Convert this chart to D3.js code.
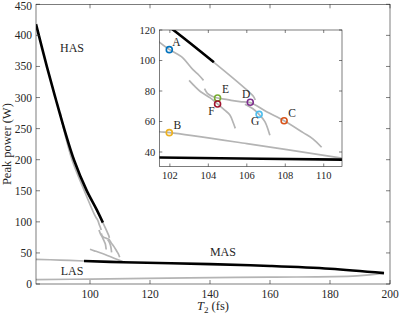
<!DOCTYPE html>
<html>
<head>
<meta charset="utf-8">
<script src="https://cdn.jsdelivr.net/npm/d3@7"></script>
<style>
  body { margin: 0; background: #fff; }
  svg { display: block; }
  text { font-family: "Liberation Serif", "DejaVu Serif", serif; fill: #262626; }
</style>
</head>
<body>
<div id="chart"></div>
<script>
// stable branches (black)
const hasStable = [[82, 418], [85.67, 349], [88.67, 296], [91.5, 248], [94.67, 199.5], [98.83, 151], [102.18, 120], [104.29, 98.8]];
const masStable = [[98, 37], [111, 35], [140, 32], [160, 29], [180, 24.5], [198, 17.5]];

// unstable branches (gray)
const lasUpper = [[82, 39.7], [90, 38.5], [98, 37]];
const lasLower = [[82, 7], [100, 8], [133, 10], [160, 11], [189, 13], [198, 17.5]];
const branchA = [[90.1, 275], [91.2, 250], [94, 200], [98.1, 150], [101.45, 112], [102, 107], [102.6, 102.5], [103.2, 94], [103.5, 90.5], [103.75, 87]];
const branchUpper = [[104.29, 98.8], [105.3, 88.3], [106, 80.7], [106.33, 76.7], [106.44, 74.1]];
const branchEDC = [[103.8, 81.5], [103.95, 78.5], [104.2, 76.6], [104.48, 75.4], [105, 74.3], [105.64, 73], [106.18, 72.4], [107.03, 66.4], [107.94, 60.5], [108.93, 52.7], [109.45, 48.5], [109.89, 43.1]];
const branchF = [[103, 87], [103.3, 83], [103.6, 79.5], [104.1, 75.5], [104.48, 71.5], [104.85, 67.5], [105.12, 64.3], [105.3, 59], [105.4, 55.5]];
const branchG = [[105.9, 71.3], [106.3, 68.5], [106.64, 64.7], [106.94, 59.9], [107.15, 53], [107.2, 51]];
const branchB = [[100, 56], [101.45, 53.3], [102, 52.7], [106, 45.5], [110.94, 36]];

const grayLines = [lasUpper, lasLower, branchA, branchUpper, branchEDC, branchF, branchG, branchB];

// labelled points in the inset
const pointNames = ["A", "B", "C", "D", "E", "F", "G"];
const pointT2 = [101.97, 101.97, 107.94, 106.18, 104.48, 104.48, 106.64];
const pointPower = [107.1, 52.7, 60.5, 72.6, 75.4, 71.5, 64.7];
const pointColors = ["#0072BD", "#EDB120", "#D95319", "#7E2F8E", "#77AC30", "#A2142F", "#4DBEEE"];
const labelDx = [7, 8, 8, -4, 8, -6, -4];
const labelDy = [-8, -8, -8, -8, -9, 7, 7];

const mainXTicks = [100, 120, 140, 160, 180, 200];
const mainYTicks = [0, 50, 100, 150, 200, 250, 300, 350, 400, 450];
const insetXTicks = [102, 104, 106, 108, 110];
const insetYTicks = [40, 60, 80, 100, 120];

const regions = [["HAS", 94, 373], ["LAS", 94, 14.5], ["MAS", 144.3, 45]];

const width = 399, height = 316;
const gray = "#b4b4b4";

const svg = d3.select("#chart").append("svg")
  .attr("width", width)
  .attr("height", height);

function drawAxes(g, x, y, xTicks, yTicks, fontSize, tickLen) {
  const [x0, x1] = x.range();
  const [y0, y1] = y.range();
  g.append("rect")
    .attr("x", x0).attr("y", y1)
    .attr("width", x1 - x0).attr("height", y0 - y1)
    .attr("fill", "none")
    .attr("stroke", "#262626")
    .attr("stroke-width", 0.6);

  xTicks.forEach(t => {
    g.append("line").attr("x1", x(t)).attr("x2", x(t)).attr("y1", y0).attr("y2", y0 - tickLen).attr("stroke", "#262626").attr("stroke-width", 0.6);
    g.append("line").attr("x1", x(t)).attr("x2", x(t)).attr("y1", y1).attr("y2", y1 + tickLen).attr("stroke", "#262626").attr("stroke-width", 0.6);
    g.append("text").attr("x", x(t)).attr("y", y0 + fontSize + 2)
      .attr("text-anchor", "middle").attr("font-size", fontSize).text(t);
  });
  yTicks.forEach(t => {
    g.append("line").attr("x1", x0).attr("x2", x0 + tickLen).attr("y1", y(t)).attr("y2", y(t)).attr("stroke", "#262626").attr("stroke-width", 0.6);
    g.append("line").attr("x1", x1).attr("x2", x1 - tickLen).attr("y1", y(t)).attr("y2", y(t)).attr("stroke", "#262626").attr("stroke-width", 0.6);
    // keep the top label inside the page
    g.append("text").attr("x", x0 - 4).attr("y", Math.max(y(t), 5.5)).attr("dy", "0.35em")
      .attr("text-anchor", "end").attr("font-size", fontSize).text(t);
  });
}

function drawCurves(g, x, y, blackWidth, grayWidth) {
  const line = d3.line()
    .x(d => x(d[0]))
    .y(d => y(d[1]))
    .curve(d3.curveCatmullRom);

  grayLines.forEach(data => {
    g.append("path").datum(data)
      .attr("fill", "none")
      .attr("stroke", gray)
      .attr("stroke-width", grayWidth)
      .attr("d", line);
  });
  [hasStable, masStable].forEach(data => {
    g.append("path").datum(data)
      .attr("fill", "none")
      .attr("stroke", "#000")
      .attr("stroke-width", blackWidth)
      .attr("d", line);
  });
}

// main axes
const x = d3.scaleLinear().domain([82, 200]).range([36, 390]);
const y = d3.scaleLinear().domain([0, 450]).range([284, 4.3]);

svg.append("clipPath").attr("id", "mainClip")
  .append("rect").attr("x", 36).attr("y", 4.3).attr("width", 354).attr("height", 279.7);

const main = svg.append("g");
drawCurves(main.append("g").attr("clip-path", "url(#mainClip)"), x, y, 2.6, 1.7);
drawAxes(main, x, y, mainXTicks, mainYTicks, 11.5, 4);

regions.forEach(([name, t, p]) => {
  main.append("text")
    .attr("x", x(t)).attr("y", y(p))
    .attr("text-anchor", "middle")
    .attr("font-size", 12)
    .text(name);
});

svg.append("text")
  .attr("text-anchor", "middle")
  .attr("transform", `translate(11,${(284 + 4.3) / 2}) rotate(-90)`)
  .attr("font-size", 12.5)
  .text("Peak power (W)");

const xLabel = svg.append("text")
  .attr("x", 213).attr("y", 310)
  .attr("text-anchor", "middle")
  .attr("font-size", 12.5);
xLabel.append("tspan").attr("font-style", "italic").text("T");
xLabel.append("tspan").attr("font-size", 9).attr("dy", 3).text("2");
xLabel.append("tspan").attr("dy", -3).text(" (fs)");

// inset axes
const xi = d3.scaleLinear().domain([101.45, 110.95]).range([159.3, 342]);
const yi = d3.scaleLinear().domain([30.5, 120]).range([166.5, 30]);

svg.append("rect")
  .attr("x", 159.3).attr("y", 30).attr("width", 342 - 159.3).attr("height", 136.5)
  .attr("fill", "#fff");

svg.append("clipPath").attr("id", "insetClip")
  .append("rect").attr("x", 159.3).attr("y", 30).attr("width", 342 - 159.3).attr("height", 136.5);

const inset = svg.append("g");
drawCurves(inset.append("g").attr("clip-path", "url(#insetClip)"), xi, yi, 2.6, 1.7);
drawAxes(inset, xi, yi, insetXTicks, insetYTicks, 10.5, 3);

pointNames.forEach((name, i) => {
  inset.append("circle")
    .attr("cx", xi(pointT2[i])).attr("cy", yi(pointPower[i]))
    .attr("r", 3)
    .attr("fill", "none")
    .attr("stroke", pointColors[i])
    .attr("stroke-width", 1.6);
  inset.append("text")
    .attr("x", xi(pointT2[i]) + labelDx[i]).attr("y", yi(pointPower[i]) + labelDy[i])
    .attr("dy", "0.35em")
    .attr("text-anchor", "middle")
    .attr("font-size", 11.5)
    .text(name);
});
</script>
</body>
</html>
